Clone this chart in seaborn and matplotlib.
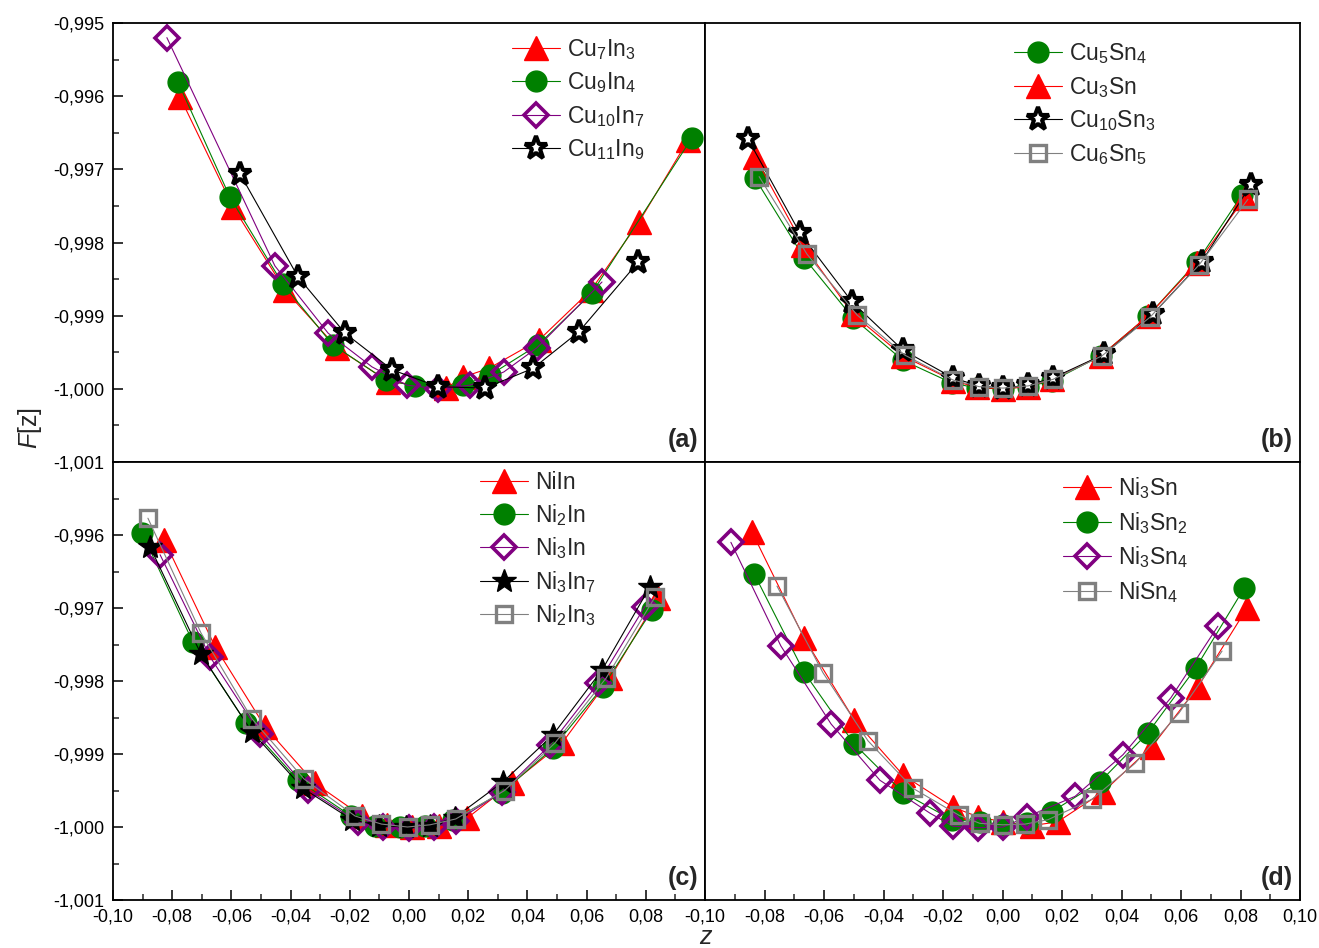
import matplotlib
matplotlib.use("Agg")
import matplotlib.pyplot as plt
from matplotlib.ticker import MultipleLocator, FuncFormatter
import seaborn as sns

# ---- panel (a): Cu-In compounds ----
a_cu7in3_x = [-0.0774, -0.0595, -0.0419, -0.0243, -0.0070, 0.0125, 0.0182, 0.0270, 0.0440, 0.0615, 0.0777, 0.0943]
a_cu7in3_y = [-0.99601, -0.99751, -0.99865, -0.99944, -0.99990, -0.99999, -0.99984, -0.99972, -0.99933, -0.99865, -0.99772, -0.99660]
a_cu9in4_x = [-0.0780, -0.0605, -0.0426, -0.0257, -0.0078, 0.0020, 0.0182, 0.0274, 0.0436, 0.0618, 0.0956]
a_cu9in4_y = [-0.99581, -0.99738, -0.99857, -0.99940, -0.99988, -0.99996, -0.99995, -0.99981, -0.99940, -0.99869, -0.99657]
a_cu10in7_x = [-0.0818, -0.0453, -0.0273, -0.0125, -0.0007, 0.0098, 0.0206, 0.0320, 0.0432, 0.0652]
a_cu10in7_y = [-0.99520, -0.99832, -0.99924, -0.99970, -0.99995, -1.00000, -0.99995, -0.99977, -0.99944, -0.99854]
a_cu11in9_x = [-0.0571, -0.0375, -0.0216, -0.0057, 0.0098, 0.0257, 0.0419, 0.0574, 0.0774]
a_cu11in9_y = [-0.99706, -0.99847, -0.99924, -0.99974, -0.99997, -0.99999, -0.99972, -0.99922, -0.99827]

# ---- panel (b): Cu-Sn compounds ----
b_cu5sn4_x = [-0.0832, -0.0667, -0.0503, -0.0335, -0.0170, -0.0085, 0.0000, 0.0085, 0.0168, 0.0330, 0.0490, 0.0655, 0.0805]
b_cu5sn4_y = [-0.99712, -0.99821, -0.99903, -0.99961, -0.99992, -0.99999, -1.00000, -0.99997, -0.99989, -0.99955, -0.99900, -0.99826, -0.99735]
b_cu3sn_x = [-0.0832, -0.0671, -0.0503, -0.0335, -0.0165, -0.0085, 0.0000, 0.0085, 0.0168, 0.0330, 0.0490, 0.0655, 0.0815]
b_cu3sn_y = [-0.99683, -0.99803, -0.99898, -0.99955, -0.99989, -0.99998, -1.00000, -0.99997, -0.99987, -0.99955, -0.99900, -0.99828, -0.99739]
b_cu10sn3_x = [-0.0855, -0.0681, -0.0506, -0.0335, -0.0166, -0.0080, 0.0000, 0.0085, 0.0170, 0.0340, 0.0505, 0.0670, 0.0835]
b_cu10sn3_y = [-0.99659, -0.99787, -0.99881, -0.99947, -0.99985, -0.99996, -0.99999, -0.99995, -0.99985, -0.99953, -0.99898, -0.99826, -0.99721]
b_cu6sn5_x = [-0.0818, -0.0657, -0.0489, -0.0328, -0.0166, -0.0079, 0.0002, 0.0086, 0.0170, 0.0334, 0.0496, 0.0660, 0.0825]
b_cu6sn5_y = [-0.99710, -0.99816, -0.99899, -0.99954, -0.99988, -0.99997, -0.99999, -0.99996, -0.99987, -0.99955, -0.99902, -0.99831, -0.99741]

# ---- panel (c): Ni-In compounds ----
c_niin_x = [-0.0827, -0.0655, -0.0486, -0.0318, -0.0159, -0.0075, 0.0010, 0.0100, 0.0196, 0.0348, 0.0517, 0.0679, 0.0841]
c_niin_y = [-0.99607, -0.99753, -0.99863, -0.99940, -0.99985, -0.99997, -1.00000, -0.99998, -0.99988, -0.99940, -0.99885, -0.99796, -0.99686]
c_ni2in_x = [-0.0902, -0.0730, -0.0551, -0.0375, -0.0195, -0.0115, -0.0030, 0.0054, 0.0150, 0.0314, 0.0486, 0.0655, 0.0821]
c_ni2in_y = [-0.99597, -0.99747, -0.99857, -0.99936, -0.99985, -0.99999, -1.00000, -0.99999, -0.99990, -0.99953, -0.99892, -0.99808, -0.99703]
c_ni3in_x = [-0.0841, -0.0672, -0.0503, -0.0341, -0.0172, -0.0088, 0.0000, 0.0085, 0.0160, 0.0314, 0.0476, 0.0639, 0.0797]
c_ni3in_y = [-0.99627, -0.99767, -0.99872, -0.99949, -0.99993, -1.00000, -1.00002, -1.00000, -0.99992, -0.99952, -0.99888, -0.99803, -0.99698]
c_ni3in7_x = [-0.0875, -0.0703, -0.0530, -0.0358, -0.0193, -0.0100, -0.0010, 0.0070, 0.0155, 0.0318, 0.0486, 0.0652, 0.0814]
c_ni3in7_y = [-0.99616, -0.99763, -0.99870, -0.99947, -0.99990, -0.99998, -1.00000, -0.99999, -0.99987, -0.99938, -0.99874, -0.99785, -0.99671]
c_ni2in3_x = [-0.0882, -0.0703, -0.0530, -0.0355, -0.0182, -0.0093, -0.0005, 0.0071, 0.0158, 0.0323, 0.0493, 0.0666, 0.0831]
c_ni2in3_y = [-0.99577, -0.99734, -0.99852, -0.99934, -0.99985, -0.99996, -1.00000, -0.99997, -0.99989, -0.99950, -0.99885, -0.99796, -0.99685]

# ---- panel (d): Ni-Sn compounds ----
d_ni3sn_x = [-0.0842, -0.0667, -0.0499, -0.0334, -0.0166, -0.0082, 0.0002, 0.0100, 0.0185, 0.0338, 0.0502, 0.0657, 0.0822]
d_ni3sn_y = [-0.99596, -0.99741, -0.99853, -0.99929, -0.99973, -0.99986, -0.99993, -0.99998, -0.99993, -0.99952, -0.99890, -0.99808, -0.99700]
d_ni3sn2_x = [-0.0835, -0.0667, -0.0499, -0.0334, -0.0170, -0.0076, 0.0002, 0.0082, 0.0166, 0.0328, 0.0489, 0.0650, 0.0812]
d_ni3sn2_y = [-0.99653, -0.99788, -0.99886, -0.99953, -0.99990, -0.99993, -0.99997, -0.99995, -0.99979, -0.99938, -0.99871, -0.99782, -0.99673]
d_ni3sn4_x = [-0.0913, -0.0745, -0.0576, -0.0412, -0.0244, -0.0166, -0.0082, 0.0002, 0.0082, 0.0244, 0.0405, 0.0566, 0.0724]
d_ni3sn4_y = [-0.99610, -0.99752, -0.99859, -0.99936, -0.99981, -0.99999, -1.00001, -1.00000, -0.99986, -0.99958, -0.99901, -0.99823, -0.99725]
d_nisn4_x = [-0.0758, -0.0603, -0.0452, -0.0301, -0.0146, -0.0076, 0.0002, 0.0076, 0.0153, 0.0301, 0.0445, 0.0593, 0.0738]
d_nisn4_y = [-0.99670, -0.99789, -0.99882, -0.99947, -0.99984, -0.99995, -0.99997, -0.99996, -0.99990, -0.99962, -0.99913, -0.99844, -0.99759]

# legend labels
labels_a = ["Cu$_7$In$_3$", "Cu$_9$In$_4$", "Cu$_{10}$In$_7$", "Cu$_{11}$In$_9$"]
labels_b = ["Cu$_5$Sn$_4$", "Cu$_3$Sn", "Cu$_{10}$Sn$_3$", "Cu$_6$Sn$_5$"]
labels_c = ["NiIn", "Ni$_2$In", "Ni$_3$In", "Ni$_3$In$_7$", "Ni$_2$In$_3$"]
labels_d = ["Ni$_3$Sn", "Ni$_3$Sn$_2$", "Ni$_3$Sn$_4$", "NiSn$_4$"]
panel_tags = ["(a)", "(b)", "(c)", "(d)"]

sns.set_theme(style="ticks")
plt.rcParams["font.family"] = ["Liberation Sans", "DejaVu Sans"]
plt.rcParams["mathtext.fontset"] = "custom"
plt.rcParams["mathtext.rm"] = "Liberation Sans"
plt.rcParams["mathtext.it"] = "Liberation Sans:italic"
plt.rcParams["mathtext.bf"] = "Liberation Sans:bold"

RED, GREEN, PURPLE, BLACK, GRAY = "#ff0000", "#008000", "#800080", "#000000", "#808080"

# marker styles
TRI = dict(marker="^", markersize=17, markerfacecolor=RED, markeredgecolor=RED, markeredgewidth=1)
CIRC = dict(marker="o", markersize=15, markerfacecolor=GREEN, markeredgecolor=GREEN, markeredgewidth=1)
DIAM = dict(marker="D", markersize=12, markerfacecolor="none", markeredgecolor=PURPLE, markeredgewidth=2.6)
STAR_OPEN = dict(marker="*", markersize=17, markerfacecolor="white", markeredgecolor=BLACK, markeredgewidth=3.0)
STAR_FULL = dict(marker="*", markersize=18, markerfacecolor=BLACK, markeredgecolor=BLACK, markeredgewidth=1)
SQR = dict(marker="s", markersize=11, markerfacecolor="none", markeredgecolor=GRAY, markeredgewidth=2.4)

W, H = 1319, 948
fig = plt.figure(figsize=(W / 100, H / 100), dpi=100)


def px_axes(left, top, right, bottom):
    return fig.add_axes([left / W, 1 - bottom / H, (right - left) / W, (bottom - top) / H])


ax_a = px_axes(113, 23, 705, 462)
ax_b = px_axes(705, 23, 1300, 462)
ax_c = px_axes(113, 462, 705, 900)
ax_d = px_axes(705, 462, 1300, 900)

series = {
    ax_a: [(a_cu7in3_x, a_cu7in3_y, RED, TRI), (a_cu9in4_x, a_cu9in4_y, GREEN, CIRC),
           (a_cu10in7_x, a_cu10in7_y, PURPLE, DIAM), (a_cu11in9_x, a_cu11in9_y, BLACK, STAR_OPEN)],
    ax_b: [(b_cu5sn4_x, b_cu5sn4_y, GREEN, CIRC), (b_cu3sn_x, b_cu3sn_y, RED, TRI),
           (b_cu10sn3_x, b_cu10sn3_y, BLACK, STAR_OPEN), (b_cu6sn5_x, b_cu6sn5_y, GRAY, SQR)],
    ax_c: [(c_niin_x, c_niin_y, RED, TRI), (c_ni2in_x, c_ni2in_y, GREEN, CIRC),
           (c_ni3in_x, c_ni3in_y, PURPLE, DIAM), (c_ni3in7_x, c_ni3in7_y, BLACK, STAR_FULL),
           (c_ni2in3_x, c_ni2in3_y, GRAY, SQR)],
    ax_d: [(d_ni3sn_x, d_ni3sn_y, RED, TRI), (d_ni3sn2_x, d_ni3sn2_y, GREEN, CIRC),
           (d_ni3sn4_x, d_ni3sn4_y, PURPLE, DIAM), (d_nisn4_x, d_nisn4_y, GRAY, SQR)],
}
labels = {ax_a: labels_a, ax_b: labels_b, ax_c: labels_c, ax_d: labels_d}
legend_anchor = {ax_a: (0.674, 0.969), ax_b: (0.519, 0.959), ax_c: (0.620, 0.979), ax_d: (0.602, 0.970)}
legend_spacing = {ax_a: 0.38, ax_b: 0.38, ax_c: 0.33, ax_d: 0.38}


def comma_fmt(ndig):
    def f(v, p):
        v = round(v, ndig) + 0.0
        return f"{v:.{ndig}f}".replace(".", ",")
    return FuncFormatter(f)


for ax, tag in zip([ax_a, ax_b, ax_c, ax_d], panel_tags):
    for (xs, ys, col, mk), lab in zip(series[ax], labels[ax]):
        sns.lineplot(x=xs, y=ys, ax=ax, sort=False, estimator=None, color=col,
                     linewidth=0.8, label=lab, **mk)
    ax.set_xlim(-0.10, 0.10)
    ax.set_ylim(-1.001, -0.995)
    ax.xaxis.set_major_locator(MultipleLocator(0.02))
    ax.xaxis.set_minor_locator(MultipleLocator(0.01))
    ax.yaxis.set_major_locator(MultipleLocator(0.001))
    ax.yaxis.set_minor_locator(MultipleLocator(0.0005))
    ax.xaxis.set_major_formatter(comma_fmt(2))
    ax.yaxis.set_major_formatter(comma_fmt(3))
    ax.tick_params(axis="both", which="major", direction="in", length=7, width=1.1,
                   labelsize=13, colors="black", pad=6)
    ax.tick_params(axis="both", which="minor", direction="in", length=4, width=1.1)
    for s in ax.spines.values():
        s.set_linewidth(1.3)
        s.set_color("black")
        s.set_visible(True)
    ax.set_xlabel("")
    ax.set_ylabel("")
    ax.text(0.988, 0.022, tag, transform=ax.transAxes, ha="right", va="bottom",
            fontsize=18, fontweight="bold")
    ax.legend(loc="upper left", bbox_to_anchor=legend_anchor[ax], frameon=False,
              fontsize=16.5, handlelength=2.1, handletextpad=0.3,
              labelspacing=legend_spacing[ax], borderpad=0, borderaxespad=0, markerscale=1.0)

# top panels: no x ticks; right panels: no y ticks
for ax in (ax_a, ax_b):
    ax.tick_params(axis="x", which="both", bottom=False, labelbottom=False)
for ax in (ax_b, ax_d):
    ax.tick_params(axis="y", which="both", left=False, labelleft=False)

# drop labels that would collide at the shared borders
ax_c.set_xticks([-0.10, -0.08, -0.06, -0.04, -0.02, 0.00, 0.02, 0.04, 0.06, 0.08])
ax_c.set_yticks([-1.001, -1.000, -0.999, -0.998, -0.997, -0.996])

fig.text(30 / W, 1 - 428 / H, r"$\mathit{F}$[z]", rotation=90, ha="center", va="center", fontsize=18)
fig.text(705 / W, 1 - 944 / H, "z", style="italic", ha="center", va="baseline", fontsize=18)

fig.savefig("out.png", dpi=100)
